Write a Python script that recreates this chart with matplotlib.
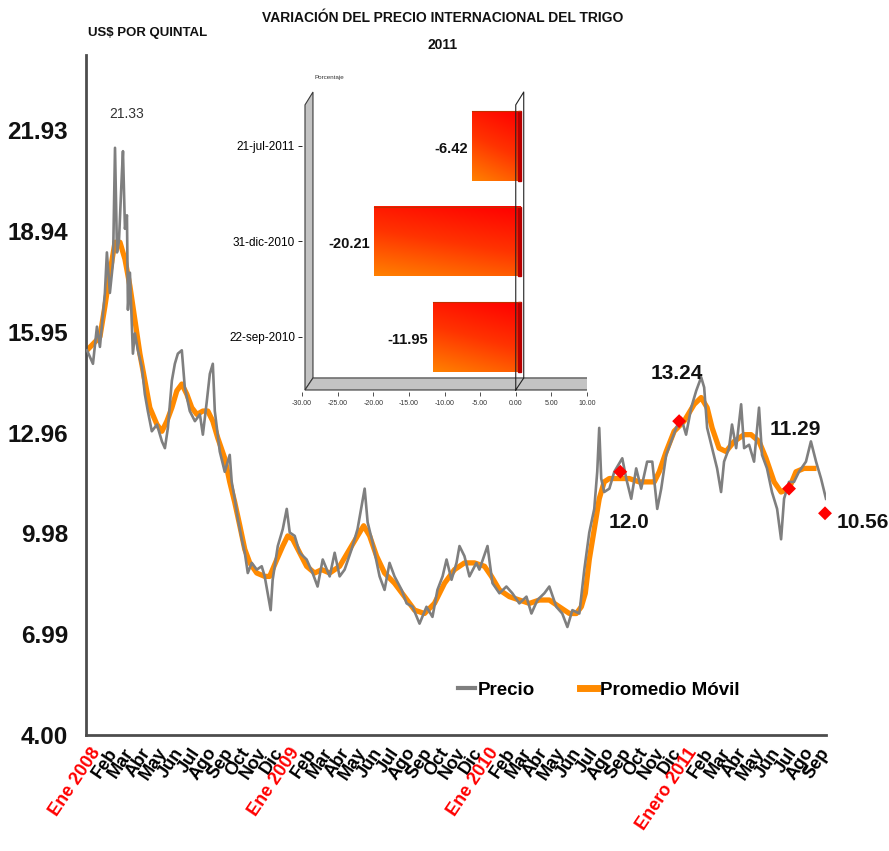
import matplotlib
matplotlib.use('Agg')
import matplotlib.pyplot as plt
import numpy as np
from matplotlib.colors import LinearSegmentedColormap
from matplotlib.patches import Polygon, Rectangle
from matplotlib.lines import Line2D

plt.rcParams['font.family'] = ['Liberation Sans', 'DejaVu Sans']

# ---------------- data ----------------
months = ['Ene 2008', 'Feb', 'Mar', 'Abr', 'May', 'Jun', 'Jul', 'Ago', 'Sep', 'Oct', 'Nov', 'Dic',
          'Ene 2009', 'Feb', 'Mar', 'Abr', 'May', 'Jun', 'Jul', 'Ago', 'Sep', 'Oct', 'Nov', 'Dic',
          'Ene 2010', 'Feb', 'Mar', 'Abr', 'May', 'Jun', 'Jul', 'Ago', 'Sep', 'Oct', 'Nov', 'Dic',
          'Enero 2011', 'Feb', 'Mar', 'Abr', 'May', 'Jun', 'Jul', 'Ago', 'Sep']

# time in months since January 2008
t_precio = [-0.18, 0.18, 0.42, 0.60, 0.90, 1.02, 1.20, 1.39, 1.51, 1.63, 1.75, 1.93, 1.99, 2.11, 2.23,
            2.29, 2.41, 2.59, 2.71, 2.89, 3.13, 3.31, 3.49, 3.73, 4.04, 4.34, 4.52, 4.70, 4.94, 5.12,
            5.30, 5.54, 5.72, 6.02, 6.33, 6.63, 6.81, 7.05, 7.23, 7.41, 7.53, 7.83, 8.13, 8.43, 8.55,
            8.73, 8.92, 9.16, 9.34, 9.52, 9.76, 10.06, 10.36, 10.54, 10.72, 10.90, 11.02, 11.33, 11.63,
            11.87, 12.05, 12.35, 12.65, 13.07, 13.43, 13.73, 14.04, 14.46, 14.76, 15.06, 15.36, 15.78,
            16.14, 16.57, 16.75, 17.05, 17.47, 17.77, 18.07, 18.37, 18.80, 19.10, 19.46, 19.88, 20.30,
            20.66, 20.96, 21.27, 21.51, 21.81, 22.11, 22.29, 22.59, 22.89, 23.31, 23.49, 23.98, 24.28,
            24.70, 25.12, 25.48, 25.90, 26.33, 26.63, 26.99, 27.41, 27.71, 28.13, 28.49, 28.80, 29.10,
            29.52, 29.82, 30.12, 30.42, 30.60, 30.72, 30.84, 31.02, 31.33, 31.63, 32.11, 32.35, 32.65,
            32.95, 33.25, 33.61, 33.92, 34.22, 34.46, 34.76, 35.06, 35.36, 35.66, 35.96, 36.27, 36.57,
            36.87, 37.05, 37.23, 37.53, 37.83, 38.07, 38.25, 38.55, 38.73, 38.98, 39.28, 39.46, 39.76,
            40.06, 40.36, 40.54, 40.84, 41.14, 41.45, 41.69, 41.87, 42.17, 42.47, 42.77, 43.19, 43.49,
            43.80, 44.10, 44.40]
precio = [15.4, 15.0, 16.1, 15.5, 17.1, 18.3, 17.1, 18.0, 21.4, 18.3, 18.65, 20.7, 21.3, 19.0, 19.4,
          16.6, 17.7, 15.3, 15.9, 15.4, 14.9, 14.1, 13.6, 13.0, 13.2, 12.7, 12.5, 13.1, 14.5, 15.0,
          15.3, 15.4, 14.3, 13.6, 13.3, 13.5, 12.9, 13.9, 14.7, 15.0, 13.6, 12.4, 11.8, 12.3, 11.5,
          11.0, 10.4, 9.8, 9.4, 8.8, 9.1, 8.9, 9.0, 8.7, 8.2, 7.7, 8.6, 9.6, 10.1,
          10.7, 10.0, 9.9, 9.4, 9.2, 8.8, 8.4, 9.2, 8.7, 9.4, 8.7, 8.9, 9.5,
          10.1, 11.3, 10.3, 9.7, 8.7, 8.3, 9.1, 8.7, 8.3, 7.9, 7.8, 7.3, 7.8,
          7.5, 8.3, 8.7, 9.2, 8.6, 9.1, 9.6, 9.3, 8.7, 9.1, 8.9, 9.6, 8.5,
          8.2, 8.4, 8.2, 7.9, 8.1, 7.6, 8.0, 8.2, 8.4, 7.8, 7.6, 7.2, 7.7,
          7.6, 8.9, 10.0, 10.7, 11.8, 13.1, 11.6, 11.2, 11.3, 11.8, 12.2, 11.6, 11.0,
          11.9, 11.3, 12.1, 12.1, 10.7, 11.3, 12.3, 12.7, 13.1, 13.4, 12.9, 13.7, 14.2,
          14.6, 14.3, 13.1, 12.5, 11.9, 11.2, 12.1, 12.5, 13.2, 12.5, 13.8, 12.5, 12.6,
          12.1, 13.7, 12.3, 11.9, 11.2, 10.7, 9.8, 11.0, 11.5, 11.5, 11.8, 12.1, 12.7,
          12.1, 11.6, 11.0]

t_promedio = [-0.18, 0.60, 0.90, 1.20, 1.51, 1.81, 2.11, 2.41, 2.71, 3.01, 3.31, 3.61, 4.04, 4.34,
              4.64, 4.94, 5.24, 5.54, 5.84, 6.14, 6.45, 6.81, 7.11, 7.41, 7.71, 8.13, 8.43, 8.73,
              9.04, 9.34, 9.64, 10.06, 10.54, 10.84, 11.27, 11.63, 11.93, 12.23, 12.65, 13.07, 13.55,
              13.98, 14.46, 15.06, 15.66, 16.14, 16.51, 16.87, 17.29, 17.77, 18.37, 18.98, 19.58,
              20.18, 20.78, 21.39, 21.99, 22.59, 23.19, 23.80, 24.22, 24.70, 25.30, 25.90, 26.51,
              27.11, 27.71, 28.31, 28.92, 29.34, 29.64, 29.88, 30.12, 30.42, 30.72, 31.02, 31.33,
              31.93, 32.53, 33.13, 33.73, 34.04, 34.34, 34.76, 35.24, 35.84, 36.45, 36.87, 37.23,
              37.53, 37.95, 38.37, 38.86, 39.46, 39.88, 40.36, 40.78, 41.27, 41.69, 42.17, 42.59,
              43.07, 43.67]
promedio = [15.4, 15.8, 16.7, 17.7, 18.6, 18.6, 18.1, 17.3, 16.3, 15.3, 14.5, 13.7, 13.2, 13.0,
            13.3, 13.7, 14.2, 14.4, 14.1, 13.7, 13.5, 13.6, 13.6, 13.3, 12.8, 12.2, 11.5, 10.9,
            10.2, 9.5, 9.1, 8.8, 8.7, 8.7, 9.2, 9.6, 9.9, 9.8, 9.4, 9.0, 8.8,
            8.9, 8.8, 9.0, 9.5, 9.9, 10.2, 9.9, 9.3, 8.8, 8.5, 8.1, 7.7,
            7.6, 7.9, 8.5, 8.9, 9.1, 9.1, 9.0, 8.7, 8.3, 8.1, 8.0, 7.9,
            8.0, 8.0, 7.8, 7.6, 7.6, 7.8, 8.2, 9.2, 10.1, 11.0, 11.5, 11.6,
            11.6, 11.6, 11.5, 11.5, 11.5, 11.8, 12.4, 13.0, 13.3, 13.8, 14.0, 13.7,
            13.1, 12.5, 12.4, 12.7, 12.9, 12.9, 12.7, 12.2, 11.5, 11.2, 11.3, 11.8,
            11.9, 11.9]

t_marks = [31.99, 35.54, 42.17, 44.34]
marks = [11.8, 13.3, 11.3, 10.57]
mark_labels = ['12.0', '13.24', '11.29', '10.56']
peak_label = '21.33'

yticks = [4.00, 6.99, 9.98, 12.96, 15.95, 18.94, 21.93]

bar_cats = ['22-sep-2010', '31-dic-2010', '21-jul-2011']
bar_vals = [-11.95, -20.21, -6.42]
bar_xticks = [-30, -25, -20, -15, -10, -5, 0, 5, 10]

# ---------------- figure ----------------
fig = plt.figure(figsize=(8.89, 8.51), dpi=100)
fig.patch.set_facecolor('white')

ax = fig.add_axes([86 / 889, 1 - 735 / 851, 740 / 889, 680 / 851])
ax.plot(t_promedio, promedio, color='#FF8A00', lw=3.8, zorder=2, solid_joinstyle='round')
ax.plot(t_precio, precio, color='#7F7F7F', lw=1.9, zorder=3)
ax.scatter(t_marks, marks, marker='D', s=50, color='#FF0000', edgecolors='none', zorder=5, clip_on=False)

ax.set_xlim(-0.24, 44.4)
ax.set_ylim(4.0, 24.15)

for s in ['top', 'right']:
    ax.spines[s].set_visible(False)
for s in ['left', 'bottom']:
    ax.spines[s].set_color('#4d4d4d')
    ax.spines[s].set_linewidth(2.0)

ax.set_yticks(yticks)
ax.set_yticklabels(['%.2f' % v for v in yticks], fontsize=17.5, fontweight='bold', color='#111111')
ax.tick_params(axis='y', length=0, pad=13)

ax.set_xticks(range(len(months)))
ax.set_xticklabels(months, rotation=56, ha='right', va='top', rotation_mode='anchor',
                   fontsize=13, fontweight='bold')
ax.tick_params(axis='x', length=0, pad=7)
for lbl in ax.get_xticklabels():
    if ' ' in lbl.get_text():
        lbl.set_color('#FF0000')

# labels for marked points
offsets = [(9, -51, 'center'), (-2, 48, 'center'), (6, 59, 'center'), (12, -9, 'left')]
for tx, ty, lab, (dx, dy, ha) in zip(t_marks, marks, mark_labels, offsets):
    ax.annotate(lab, (tx, ty), xytext=(dx, dy), textcoords='offset pixels', annotation_clip=False,
                ha=ha, va='center', fontsize=15, fontweight='bold', color='#111111')

imax = int(np.argmax(precio))
ax.annotate(peak_label, (t_precio[imax], precio[imax]), xytext=(12, 34), textcoords='offset pixels',
            ha='center', va='center', fontsize=10, color='#333333')

# legend
handles = [Line2D([], [], color='#7F7F7F', lw=3), Line2D([], [], color='#FF8A00', lw=5)]
fig.legend(handles, ['Precio', 'Promedio Móvil'], loc='center', bbox_to_anchor=(599 / 889, 1 - 690 / 851),
           ncol=2, frameon=False, handlelength=0.9, handletextpad=0.15, columnspacing=2.4,
           prop={'size': 13.5, 'weight': 'bold'})

# titles
fig.text(443 / 889, 1 - 18 / 851, 'VARIACIÓN DEL PRECIO INTERNACIONAL DEL TRIGO', ha='center', va='center',
         fontsize=10, fontweight='bold', color='#111111')
fig.text(443 / 889, 1 - 45 / 851, '2011', ha='center', va='center', fontsize=10, fontweight='bold',
         color='#111111')
fig.text(88 / 889, 1 - 33 / 851, 'US$ POR QUINTAL', ha='left', va='center', fontsize=9.5,
         fontweight='bold', color='#111111')

# ---------------- inset bar chart ----------------
ax2 = fig.add_axes([302 / 889, 1 - 392 / 851, 285 / 889, 304 / 851])
ax2.patch.set_visible(False)
for s in ax2.spines.values():
    s.set_visible(False)

wall = dict(facecolor='#C3C3C3', edgecolor='#3a3a3a', lw=0.8, zorder=1)
ax2.add_patch(Polygon([(-29.58, -0.555), (-29.58, 2.43), (-28.46, 2.565), (-28.46, -0.429)], **wall))
ax2.add_patch(Polygon([(-29.58, -0.555), (-28.46, -0.429), (11.12, -0.429), (10.14, -0.555)], **wall))
# zero plane
ax2.plot([0, 0, 1.12, 1.12, 0], [-0.555, 2.43, 2.565, -0.429, -0.555], color='#222222', lw=0.8, zorder=4)

cmap = LinearSegmentedColormap.from_list('ro', ['#FF0000', '#FF3300', '#FF8000'])
rows = np.linspace(0, 1, 40)[:, None]
cols = np.linspace(0, 1, 40)[None, :]
grad = rows * 0.75 + (1 - cols) * 0.25
h = 0.365
for i, v in enumerate(bar_vals):
    ax2.imshow(grad, cmap=cmap, vmin=0, vmax=1, extent=(v + 0.3, 0.6, i - h, i + h),
               aspect='auto', interpolation='bilinear', zorder=3)
    ax2.add_patch(Rectangle((0.35, i - h), 0.35, 2 * h, color='#B80000', zorder=3))
    ax2.plot([v + 0.3, 0.6], [i + h, i + h], color='#C03000', lw=0.8, zorder=3)
    ax2.text(v - 0.3, i - 0.03, '%.2f' % v, ha='right', va='center', fontsize=10.5,
             fontweight='bold', color='#111111', zorder=5)

ax2.set_xlim(-30, 10)
ax2.set_ylim(-0.576, 2.607)
ax2.set_xticks(bar_xticks)
ax2.set_xticklabels(['%.2f' % v for v in bar_xticks], fontsize=5, color='#333333')
ax2.tick_params(axis='x', length=3, width=0.6, pad=3, colors='#333333')
ax2.set_yticks(range(len(bar_cats)))
ax2.set_yticklabels(bar_cats, fontsize=8.5)
ax2.tick_params(axis='y', length=3, width=0.6, pad=2)
ax2.text(-26.1, 2.72, 'Porcentaje', fontsize=4.5, ha='center', va='center', color='#333333', clip_on=False)

fig.savefig('out.png', dpi=100, facecolor='white')
